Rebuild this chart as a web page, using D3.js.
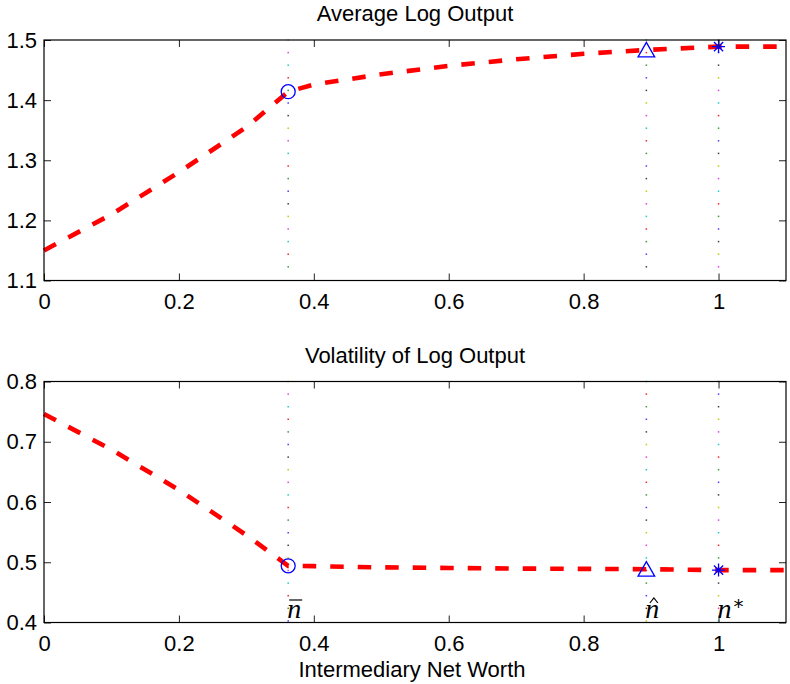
<!DOCTYPE html>
<meta charset="utf-8">
<script src="https://d3js.org/d3.v7.min.js"></script>
<style>
body { margin: 0; background: #fff; }
svg { display: block; }
text { font-family: "Liberation Sans", Arial, Helvetica, sans-serif; fill: #000; }
.tick line { stroke: #222; }
</style>
<body>
<div class="chart"></div>
<script>

// data
var netWorth = [0, 0.1, 0.2, 0.3, 0.362, 0.4, 0.5, 0.6, 0.7, 0.8, 0.893, 1.0, 1.1];
var avgLogOutput = [1.150, 1.210, 1.280, 1.355, 1.414, 1.426, 1.443, 1.457, 1.468, 1.477, 1.4835, 1.489, 1.489];
var volLogOutput = [0.746, 0.687, 0.620, 0.545, 0.494, 0.4935, 0.4915, 0.4905, 0.4895, 0.489, 0.4885, 0.487, 0.487];

// special points: n-bar, n-hat, n-star
var markX = [0.362, 0.893, 1.0];
var markTop = [1.414, 1.4835, 1.489];
var markBot = [0.494, 0.4885, 0.487];
var markShape = ["circle", "triangle", "star"];

var xTicks = [0, 0.2, 0.4, 0.6, 0.8, 1];
var xTickLabels = ["0", "0.2", "0.4", "0.6", "0.8", "1"];
var yTicksTop = [1.1, 1.2, 1.3, 1.4, 1.5];
var yTickLabelsTop = ["1.1", "1.2", "1.3", "1.4", "1.5"];
var yTicksBot = [0.4, 0.5, 0.6, 0.7, 0.8];
var yTickLabelsBot = ["0.4", "0.5", "0.6", "0.7", "0.8"];

var W = 790, H = 684;
var svg = d3.select(".chart").append("svg")
    .attr("width", W)
    .attr("height", H);

var x = d3.scaleLinear().domain([0, 1.1]).range([44, 786]);

var dotColors = ["#e040e0", "#20c8c8", "#ff2020", "#30a030", "#4040ff", "#404040", "#c8c800"];

function panel(opts) {
  var y = d3.scaleLinear().domain(opts.domain).range([opts.bottom, opts.top]);
  var g = svg.append("g");

  // dotted vertical guides
  markX.forEach(function(mx, k) {
    var y0 = opts.top, y1 = y(opts.guideEnd);
    var pts = d3.range(y0, y1, 12.6);
    g.selectAll(null).data(pts).enter().append("rect")
      .attr("x", x(mx) - 0.75)
      .attr("y", function(d) { return d - 0.75; })
      .attr("width", 1.5).attr("height", 1.5)
      .attr("fill", function(d, i) { return dotColors[(i + 6 + k * 2) % 7]; });
  });

  // dashed curve
  var line = d3.line()
    .x(function(d, i) { return x(netWorth[i]); })
    .y(function(d) { return y(d); });
  g.append("path")
    .datum(opts.values)
    .attr("fill", "none")
    .attr("stroke", "#ff0000")
    .attr("stroke-width", 4.6)
    .attr("stroke-dasharray", "13.5 14")
    .attr("d", line);

  // markers
  markX.forEach(function(mx, k) {
    var cx = x(mx), cy = y(opts.marks[k]);
    var m = g.append("g").attr("transform", "translate(" + cx + "," + cy + ")")
      .attr("fill", "none").attr("stroke", "#0000ff").attr("stroke-width", 1.3);
    if (markShape[k] == "circle") {
      m.append("circle").attr("r", 7);
    } else if (markShape[k] == "triangle") {
      m.append("path").attr("d", "M0,-7.5L8.3,7L-8.3,7Z");
    } else {
      m.append("path").attr("d", "M-6.5,0H6.5M0,-6.5V6.5M-4.6,-4.6L4.6,4.6M-4.6,4.6L4.6,-4.6");
    }
  });

  // axes, ticks inside, mirrored on top and right
  g.append("g")
    .attr("transform", "translate(0," + opts.bottom + ")")
    .call(d3.axisBottom(x).tickValues(xTicks).tickSize(-7).tickPadding(13)
      .tickFormat(function(d, i) { return xTickLabels[i]; }))
    .call(function(a) { a.select(".domain").remove(); })
    .selectAll("text").attr("font-size", 22).attr("fill", "#000");
  g.append("g")
    .attr("transform", "translate(0," + opts.top + ")")
    .call(d3.axisTop(x).tickValues(xTicks).tickSize(-7).tickFormat(""))
    .call(function(a) { a.select(".domain").remove(); });
  g.append("g")
    .attr("transform", "translate(44,0)")
    .call(d3.axisLeft(y).tickValues(opts.yTicks).tickSize(-7).tickPadding(7)
      .tickFormat(function(d, i) { return opts.yLabels[i]; }))
    .call(function(a) { a.select(".domain").remove(); })
    .selectAll("text").attr("font-size", 22).attr("fill", "#000");
  g.append("g")
    .attr("transform", "translate(786,0)")
    .call(d3.axisRight(y).tickValues(opts.yTicks).tickSize(-7).tickFormat(""))
    .call(function(a) { a.select(".domain").remove(); });

  g.append("rect")
    .attr("x", 44).attr("y", opts.top)
    .attr("width", 786 - 44).attr("height", opts.bottom - opts.top)
    .attr("fill", "none").attr("stroke", "#000").attr("stroke-width", 1.2);

  g.append("text")
    .attr("x", 415).attr("y", opts.top - 19)
    .attr("text-anchor", "middle")
    .attr("font-size", 22)
    .text(opts.title);

  return y;
}

panel({ domain: [1.1, 1.5], top: 40, bottom: 280.5, values: avgLogOutput, marks: markTop,
        yTicks: yTicksTop, yLabels: yTickLabelsTop, guideEnd: 1.115, title: "Average Log Output" });
panel({ domain: [0.4, 0.8], top: 381.5, bottom: 622.5, values: volLogOutput, marks: markBot,
        yTicks: yTicksBot, yLabels: yTickLabelsBot, guideEnd: 0.4, title: "Volatility of Log Output" });

// x label
svg.append("text")
  .attr("x", 412).attr("y", 677)
  .attr("text-anchor", "middle")
  .attr("font-size", 22)
  .text("Intermediary Net Worth");

// n labels at the guides
var lab = svg.append("g").attr("font-family", "'Liberation Serif', 'DejaVu Serif', serif");
function nLabel(mx) {
  return lab.append("text")
    .attr("x", x(mx) - 1).attr("y", 618)
    .attr("font-size", 28)
    .attr("font-style", "italic")
    .style("font-family", "'Liberation Serif', serif")
    .text("n");
}
nLabel(markX[0]);
lab.append("line")
  .attr("x1", x(markX[0]) + 1).attr("x2", x(markX[0]) + 14)
  .attr("y1", 600).attr("y2", 600)
  .attr("stroke", "#000").attr("stroke-width", 1.2);
nLabel(markX[1]);
lab.append("path")
  .attr("d", "M" + (x(markX[1]) + 3.5) + ",603L" + (x(markX[1]) + 7.5) + ",598L" + (x(markX[1]) + 11.5) + ",603")
  .attr("fill", "none").attr("stroke", "#000").attr("stroke-width", 1.2);
nLabel(markX[2]);
lab.append("text")
  .attr("x", x(markX[2]) + 15).attr("y", 613)
  .attr("font-size", 20)
  .style("font-family", "'DejaVu Sans', sans-serif")
  .text("*");

</script>
</body>
</html>
